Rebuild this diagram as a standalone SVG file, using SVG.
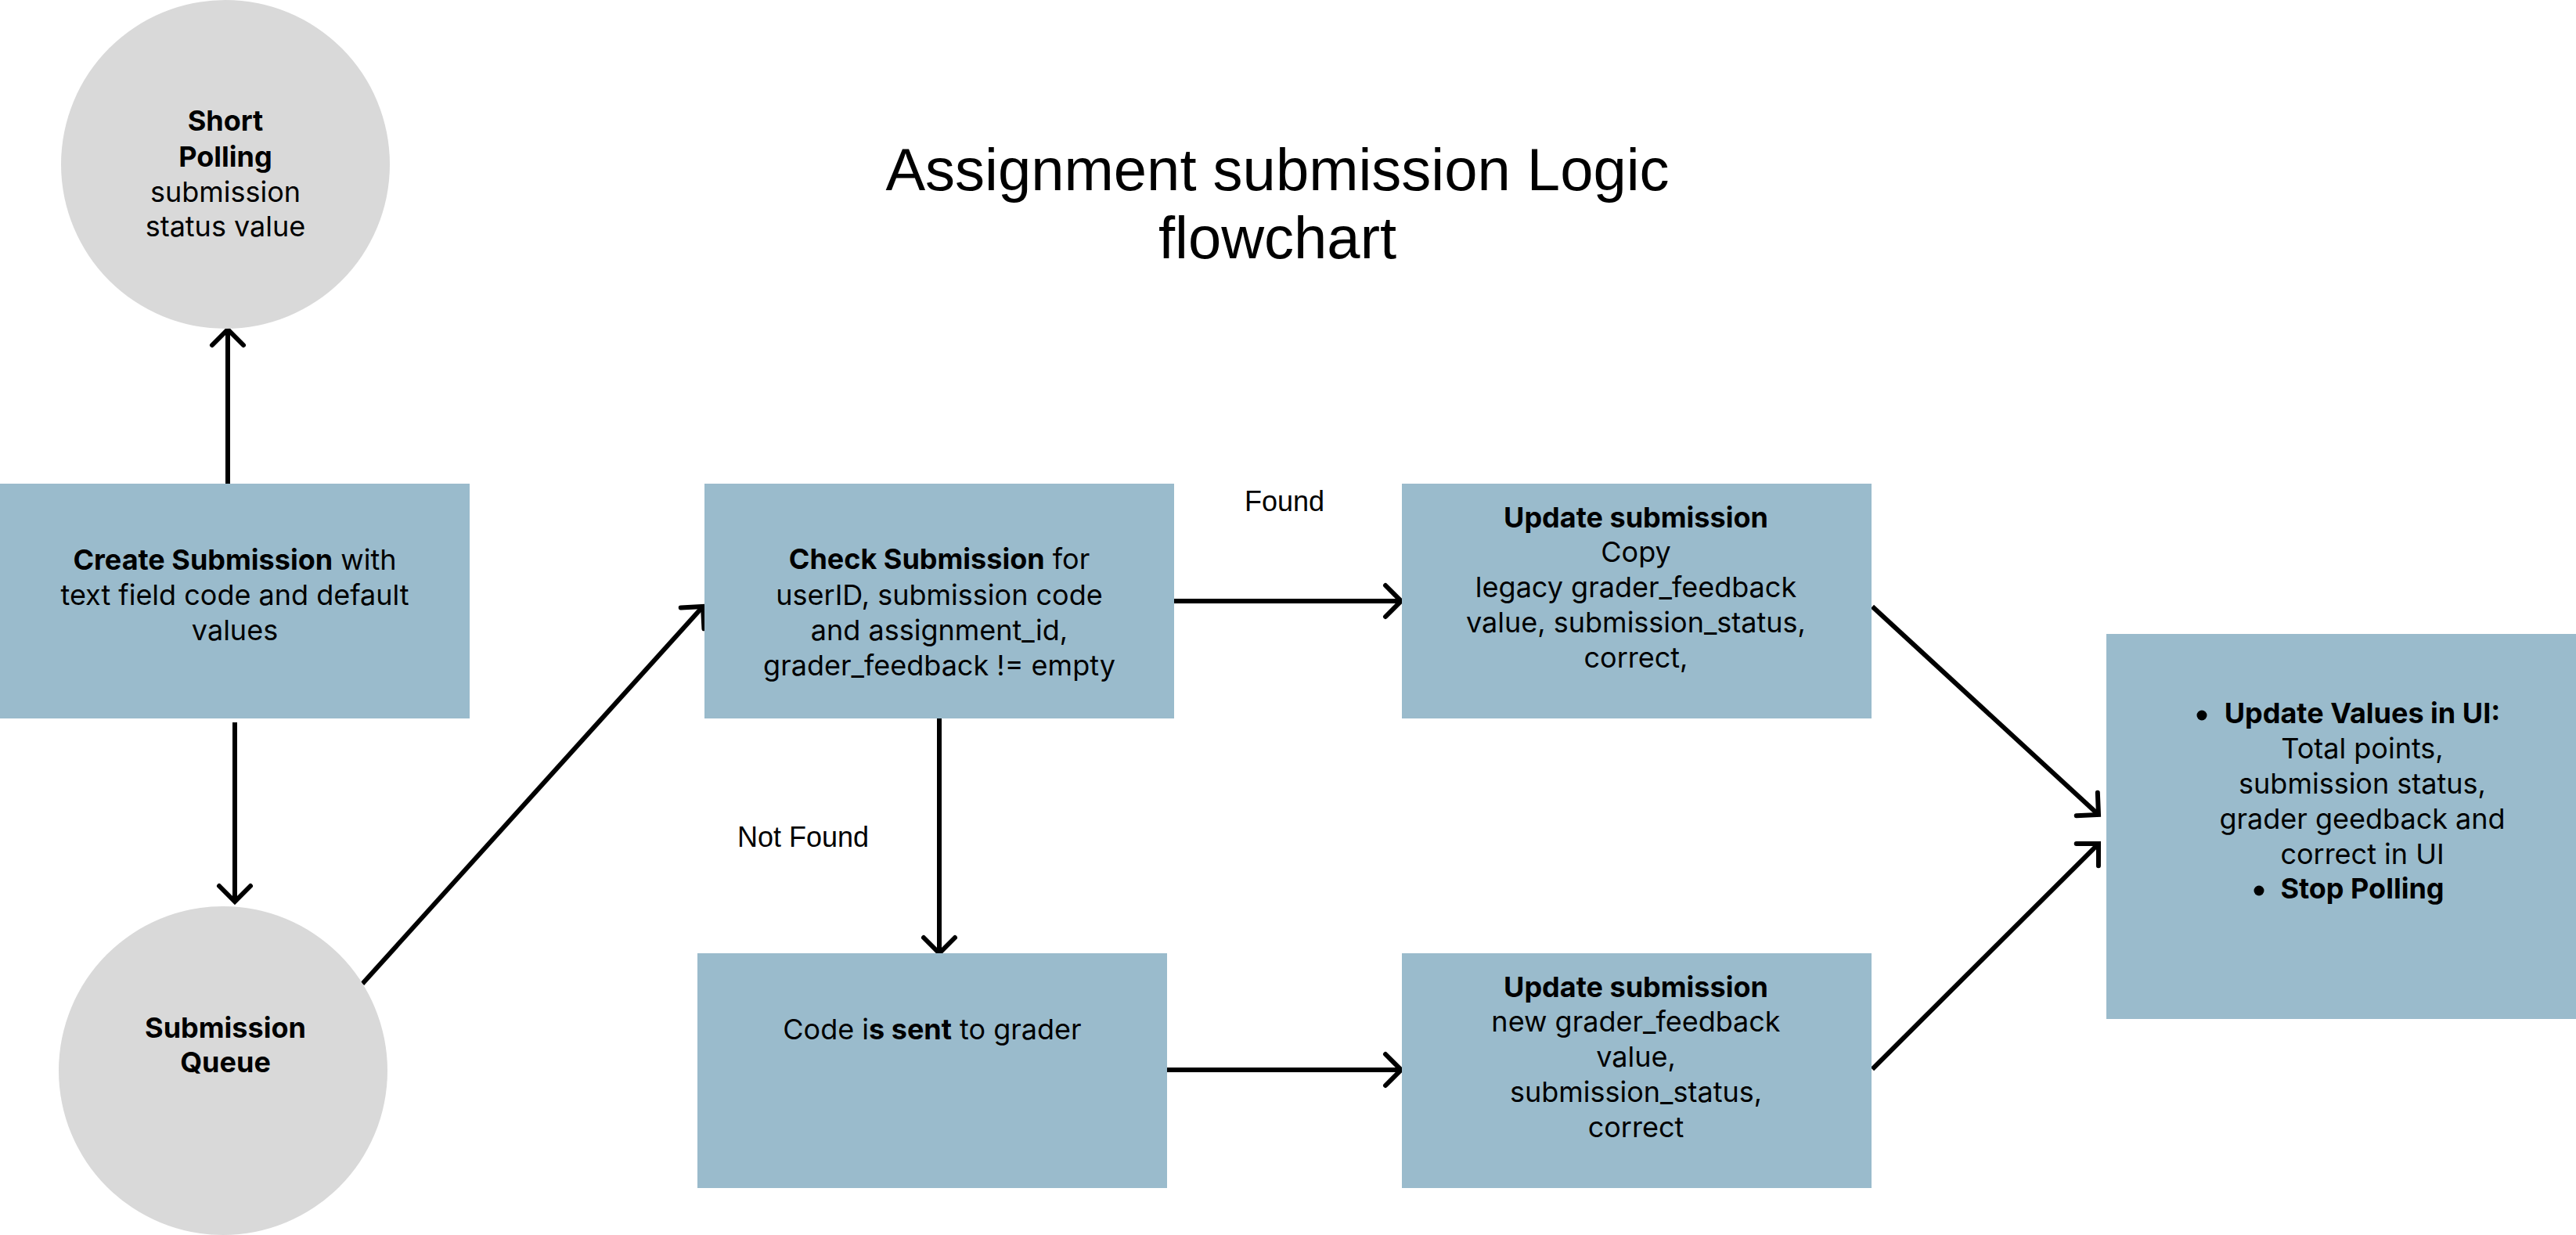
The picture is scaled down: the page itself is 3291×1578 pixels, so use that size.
<svg xmlns="http://www.w3.org/2000/svg" width="3291" height="1578" viewBox="0 0 3291 1578">
<style>
.box{fill:#9ABBCC}
.circ{fill:#D9D9D9}
.t{font-family:Inter,"Noto Sans","Liberation Sans",sans-serif;font-size:36px;fill:#000;text-anchor:middle}
.b{font-weight:700}
.lbl{font-family:"Liberation Sans",Arial,sans-serif;font-size:36px;fill:#000;text-anchor:middle}
.title{font-family:"Liberation Sans",Arial,sans-serif;font-size:76px;fill:#000;text-anchor:middle}
.edge{stroke:#000;stroke-width:6;fill:none;marker-end:url(#arr)}
</style>
<defs>
<marker id="arr" markerUnits="userSpaceOnUse" markerWidth="60" markerHeight="60" viewBox="-30 -30 60 60" refX="0" refY="0" orient="auto" overflow="visible">
<path d="M -20 -20 L 0 0 L -20 20" fill="none" stroke="#000" stroke-width="6" stroke-linecap="round" stroke-linejoin="miter"/>
</marker>
</defs>
<rect width="3291" height="1578" fill="#fff"/>
<g id="title">
<text class="title" x="1632" y="243">Assignment submission Logic</text>
<text class="title" x="1632" y="330">flowchart</text>
</g>
<g id="connectors">
<line class="edge" x1="291" y1="618" x2="291" y2="421"/>
<line class="edge" x1="300" y1="923" x2="300" y2="1152"/>
<line class="edge" x1="463" y1="1257" x2="898" y2="775"/>
<line class="edge" x1="1500" y1="768" x2="1790" y2="768"/>
<line class="edge" x1="1200" y1="918" x2="1200" y2="1218"/>
<line class="edge" x1="1491" y1="1367" x2="1790" y2="1367"/>
<line class="edge" x1="2392" y1="775" x2="2681" y2="1041"/>
<line class="edge" x1="2392" y1="1366" x2="2681" y2="1078"/>
<text class="lbl" x="1641" y="653">Found</text>
<text class="lbl" x="1026" y="1082">Not Found</text>
</g>
<g id="short-polling">
<circle class="circ" cx="288" cy="210" r="210"/>
<text class="t b" x="288" y="167">Short</text>
<text class="t b" x="288" y="213">Polling</text>
<text class="t" x="288" y="258">submission</text>
<text class="t" x="288" y="302">status value</text>
</g>
<g id="create-submission">
<rect class="box" x="0" y="618" width="600" height="300"/>
<text class="t" x="300" y="728"><tspan class="b">Create Submission</tspan> with</text>
<text class="t" x="300" y="773">text field code and default</text>
<text class="t" x="300" y="818">values</text>
</g>
<g id="submission-queue">
<circle class="circ" cx="285" cy="1368" r="210"/>
<text class="t b" x="288" y="1326">Submission</text>
<text class="t b" x="288" y="1370">Queue</text>
</g>
<g id="check-submission">
<rect class="box" x="900" y="618" width="600" height="300"/>
<text class="t" x="1200" y="727"><tspan class="b">Check Submission</tspan> for</text>
<text class="t" x="1200" y="773">userID, submission code</text>
<text class="t" x="1200" y="818">and assignment_id,</text>
<text class="t" x="1200" y="863">grader_feedback != empty</text>
</g>
<g id="update-found">
<rect class="box" x="1791" y="618" width="600" height="300"/>
<text class="t b" x="2090" y="674">Update submission</text>
<text class="t" x="2090" y="718">Copy</text>
<text class="t" x="2090" y="763">legacy grader_feedback</text>
<text class="t" x="2090" y="808">value, submission_status,</text>
<text class="t" x="2090" y="853">correct,</text>
</g>
<g id="code-sent">
<rect class="box" x="891" y="1218" width="600" height="300"/>
<text class="t" x="1191" y="1328">Code i<tspan class="b">s sent</tspan> to grader</text>
</g>
<g id="update-new">
<rect class="box" x="1791" y="1218" width="600" height="300"/>
<text class="t b" x="2090" y="1274">Update submission</text>
<text class="t" x="2090" y="1318">new grader_feedback</text>
<text class="t" x="2090" y="1363">value,</text>
<text class="t" x="2090" y="1408">submission_status,</text>
<text class="t" x="2090" y="1453">correct</text>
</g>
<g id="update-ui">
<rect class="box" x="2691" y="810" width="600" height="492"/>
<circle cx="2813" cy="914" r="6.5"/>
<text class="t b" x="3018" y="924">Update Values in UI:</text>
<text class="t" x="3018" y="969">Total points,</text>
<text class="t" x="3018" y="1014">submission status,</text>
<text class="t" x="3018" y="1059">grader geedback and</text>
<text class="t" x="3018" y="1104">correct in UI</text>
<circle cx="2886" cy="1138" r="6.5"/>
<text class="t b" x="3018" y="1148">Stop Polling</text>
</g>
</svg>
